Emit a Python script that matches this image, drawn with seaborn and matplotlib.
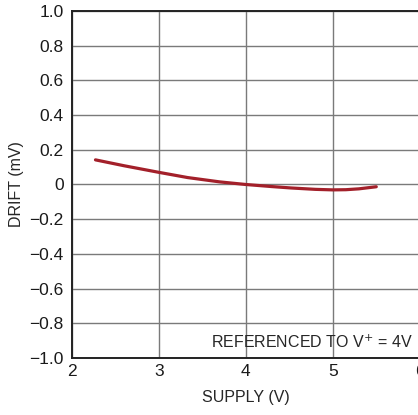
import numpy as np
import pandas as pd
import seaborn as sns
import matplotlib.pyplot as plt

# data
supply = [2.27, 2.6, 3.0, 3.33, 3.7, 4.0, 4.3, 4.52, 4.8, 5.0, 5.15, 5.3, 5.4, 5.5]
drift = [0.142, 0.108, 0.070, 0.040, 0.015, 0.0, -0.012, -0.020, -0.028, -0.031,
         -0.030, -0.025, -0.019, -0.013]
x_ticks = [2, 3, 4, 5, 6]
y_ticks = [-1.0, -0.8, -0.6, -0.4, -0.2, 0, 0.2, 0.4, 0.6, 0.8, 1.0]
y_labels = ["\u22121.0", "\u22120.8", "\u22120.6", "\u22120.4", "\u22120.2", "0",
            "0.2", "0.4", "0.6", "0.8", "1.0"]

sns.set_style("white")
plt.rcParams['font.family'] = ['Liberation Sans', 'DejaVu Sans']

df = pd.DataFrame({"supply": supply, "drift": drift})

fig = plt.figure(figsize=(4.18, 4.15), dpi=100)
ax = fig.add_axes([72 / 418, 1 - 358 / 415, (418 - 72) / 418 * 1.005, (358 - 11) / 415])

sns.lineplot(data=df, x="supply", y="drift", ax=ax, color="#a3202a", linewidth=2.3)

ax.set_xlim(2, 6)
ax.set_ylim(-1.0, 1.0)
ax.set_xticks(x_ticks)
ax.set_xticklabels([str(t) for t in x_ticks])
ax.set_yticks(y_ticks)
ax.set_yticklabels(y_labels)
ax.grid(True, color="#7a7a7a", linewidth=1.0)
ax.set_axisbelow(True)
ax.tick_params(axis="y", length=0, labelsize=12.5, pad=6, colors="#1a1a1a")
ax.tick_params(axis="x", length=0, labelsize=12.5, pad=4, colors="#1a1a1a")

for s in ["left", "bottom", "top"]:
    ax.spines[s].set_color("#222222")
    ax.spines[s].set_linewidth(1.4)
ax.spines["right"].set_visible(False)

ax.set_xlabel("SUPPLY (V)", fontsize=11.5, labelpad=8)
ax.set_ylabel("DRIFT (mV)", fontsize=11.5, labelpad=4)
ax.text(0.98, 0.046, "REFERENCED TO V$^{+}$ = 4V", transform=ax.transAxes,
        ha="right", va="center", fontsize=11.5)

fig.savefig("out.png", dpi=100)
